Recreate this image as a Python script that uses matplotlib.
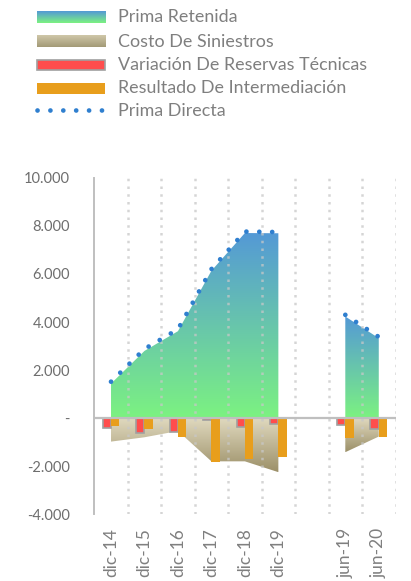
import numpy as np
import matplotlib
matplotlib.use('Agg')
import matplotlib.pyplot as plt
from matplotlib.colors import LinearSegmentedColormap
from matplotlib.ticker import FuncFormatter

plt.rcParams['font.family'] = ['Lato', 'DejaVu Sans']

# datos (millones)
cats = ['dic-14', 'dic-15', 'dic-16', 'dic-17', 'dic-18', 'dic-19', '', 'jun-19', 'jun-20']
prima_directa = [1520, 2880, 3700, 6200, 7760, 7740, np.nan, 4300, 3380]
prima_retenida = [1440, 2800, 3620, 6130, 7700, 7690, np.nan, 4230, 3330]
costo_siniestros = [-970, -790, -530, -1790, -1790, -2240, np.nan, -1410, -760]
var_reservas = [-410, -620, -550, -60, -350, -230, np.nan, -300, -450]
res_intermediacion = [-340, -440, -760, -1800, -1690, -1620, np.nan, -800, -760]

azul = '#5499d6'
verde = '#7cf281'
beige = '#e0d9bf'
oliva = '#9c9068'
rojo = '#ff4d4d'
naranja = '#e89e1c'
puntos = '#2f7fcf'
gris = '#7f7f7f'


def tramos(vals):
    # corridas continuas sin nan
    out = []
    cur = []
    for i, v in enumerate(vals):
        if np.isnan(v):
            if cur:
                out.append(cur)
            cur = []
        else:
            cur.append(i)
    if cur:
        out.append(cur)
    return out


def area_gradiente(ax, vals, c_abajo, c_arriba, z):
    cmap = LinearSegmentedColormap.from_list('g', [c_abajo, c_arriba])
    grad = np.linspace(0, 1, 256).reshape(-1, 1)
    for idx in tramos(vals):
        x = np.array(idx, dtype=float)
        y = np.array([vals[i] for i in idx])
        poly = ax.fill_between(x, 0, y, facecolor='none', edgecolor='none', lw=0)
        lo, hi = min(0, y.min()), max(0, y.max())
        im = ax.imshow(grad, cmap=cmap, origin='lower', aspect='auto',
                       extent=[x[0], x[-1], lo, hi], zorder=z, interpolation='bilinear')
        im.set_clip_path(poly.get_paths()[0], ax.transData)


fig = plt.figure(figsize=(4.11, 5.81), dpi=100)
ax = fig.add_axes([0.2294, 0.11446, 0.7329, 0.5797])

xs = np.arange(len(cats))
area_gradiente(ax, prima_retenida, verde, azul, 1)
area_gradiente(ax, costo_siniestros, oliva, beige, 1)

# lineas verticales punteadas
for g in np.arange(0.5, len(cats), 1.0):
    ax.axvline(g, color='#c8c8c8', lw=1.8, linestyle=(0, (1, 2.1)), alpha=0.75, zorder=2)

ax.bar(xs - 0.125, var_reservas, width=0.25, color=rojo, edgecolor='#a0a0a0', lw=1.2, zorder=3)
ax.bar(xs + 0.125, res_intermediacion, width=0.25, color=naranja, lw=0, zorder=3)

ax.axhline(0, color='#bfbfbf', lw=1.6, zorder=4)

for idx in tramos(prima_directa):
    ax.plot(idx, [prima_directa[i] for i in idx], color=puntos, lw=3.4,
            linestyle=(0, (0.01, 2.72)), dash_capstyle='round', zorder=5)

ax.set_xlim(-0.5, len(cats) - 0.5)
ax.set_ylim(-4000, 10000)
ax.set_yticks(np.arange(-4000, 10001, 2000))
ax.yaxis.set_major_formatter(FuncFormatter(
    lambda v, p: '-' if v == 0 else f'{v:,.0f}'.replace(',', '.')))
ax.set_xticks(xs)
ax.set_xticklabels(cats, rotation=90)
ax.tick_params(axis='y', length=0, pad=17.5, labelsize=10.5, labelcolor='#6e6e6e')
ax.tick_params(axis='x', length=0, pad=9.7, labelsize=12.5, labelcolor=gris)
for s in ['top', 'right', 'bottom']:
    ax.spines[s].set_visible(False)
ax.spines['left'].set_color('#bfbfbf')
ax.spines['left'].set_linewidth(1.4)

# leyenda dibujada a mano (coordenadas en pixeles)
lg = fig.add_axes([0, 0, 1, 1])
lg.set_xlim(0, 411)
lg.set_ylim(581, 0)
lg.axis('off')
nombres = ['Prima Retenida', 'Costo De Siniestros', 'Variación De Reservas Técnicas',
           'Resultado De Intermediación', 'Prima Directa']
filas = [17.5, 41.7, 65.0, 88.3, 110.5]
g2 = np.linspace(0, 1, 64).reshape(-1, 1)
lg.imshow(g2, cmap=LinearSegmentedColormap.from_list('a', [azul, verde]), aspect='auto',
          extent=[36.7, 105, 23.3, 11.7], origin='upper')
lg.imshow(g2, cmap=LinearSegmentedColormap.from_list('b', ['#cfc7a8', '#a39a77']), aspect='auto',
          extent=[36.7, 105, 47.3, 36.0], origin='upper')
lg.add_patch(plt.Rectangle((37.2, 59.8), 67.3, 10.5, facecolor=rojo, edgecolor='#a0a0a0', lw=1.2))
lg.add_patch(plt.Rectangle((36.7, 82.7), 68.3, 11.3, facecolor=naranja, lw=0))
lg.plot([37.3, 101.5], [110.3, 110.3], color=puntos, lw=3.4,
        linestyle=(0, (0.01, 2.72)), dash_capstyle='round')
lg.set_xlim(0, 411)
lg.set_ylim(581, 0)
for n, yy in zip(nombres, filas):
    lg.text(118.3, yy, n, color=gris, fontsize=12.9, va='center', ha='left')

fig.savefig('out.png', dpi=100)
